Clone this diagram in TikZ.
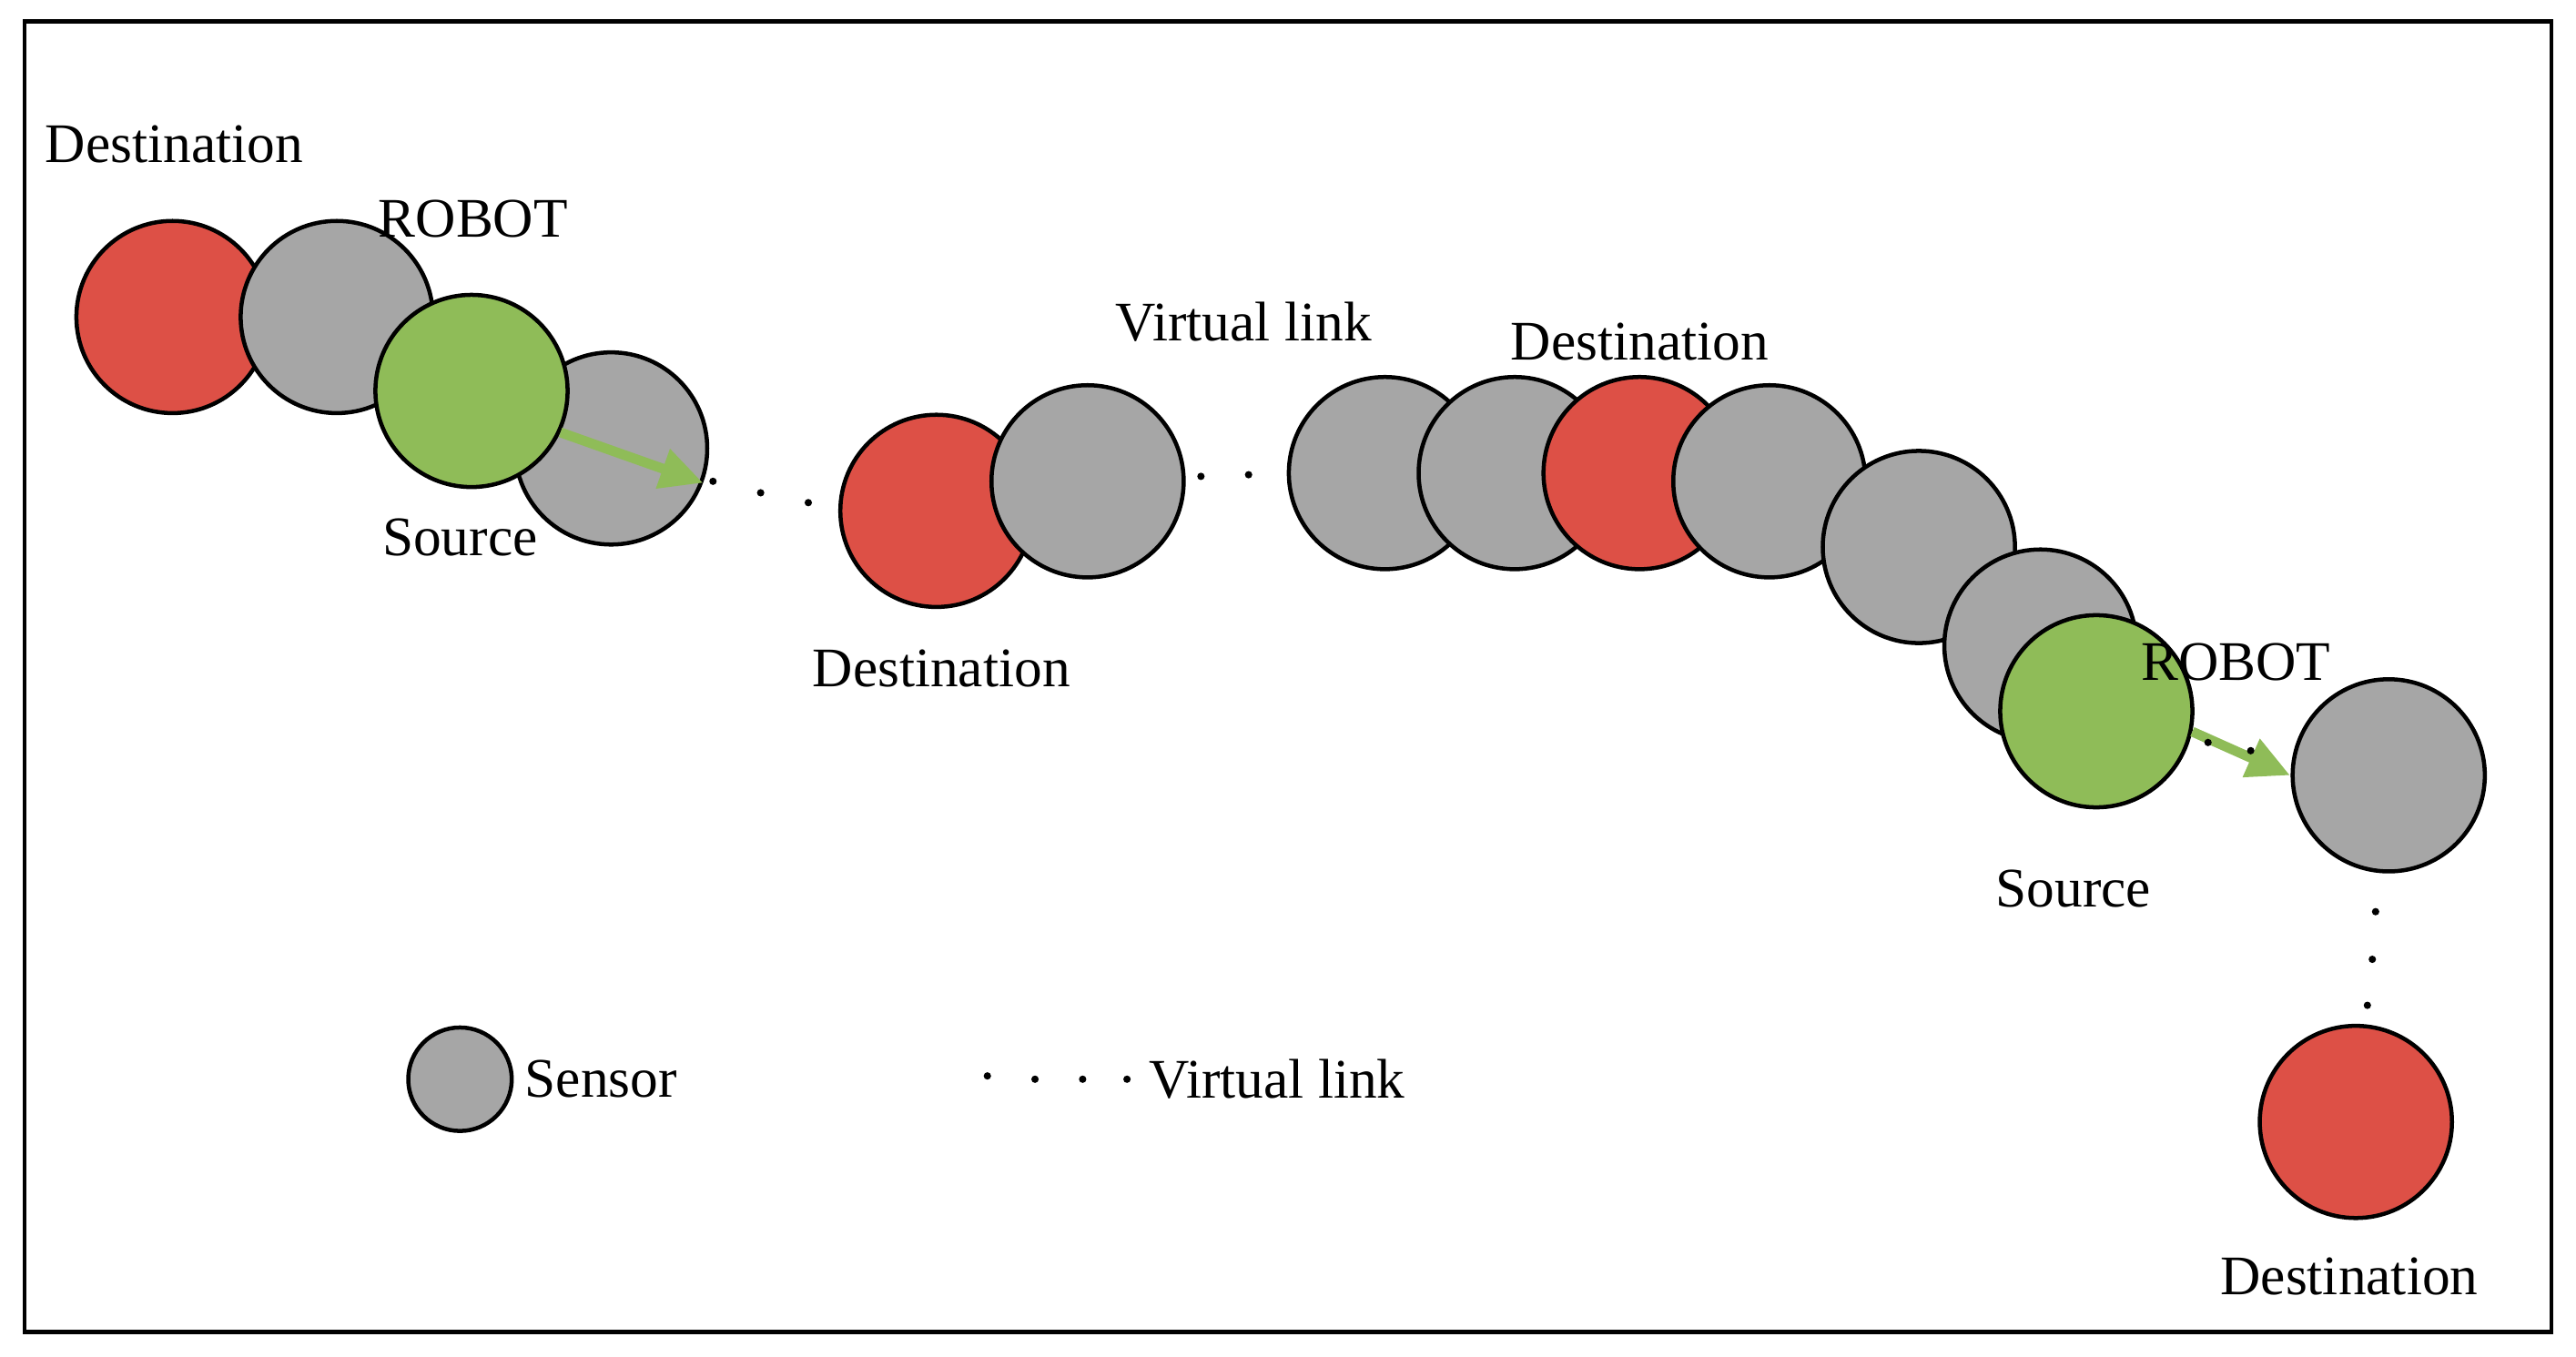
\documentclass[tikz,border=0pt]{standalone}
\usepackage{fontspec}
\setmainfont{Liberation Serif}
\usetikzlibrary{arrows.meta}
\definecolor{cred}{HTML}{DD5046}
\definecolor{cgray}{HTML}{A6A6A6}
\definecolor{cgreen}{HTML}{8FBC58}
\begin{document}
\begin{tikzpicture}[x=1pt,y=-1pt,
  n/.style={circle,draw=black,line width=2.5pt,minimum size=117pt,inner sep=0pt},
  r/.style={n,fill=cred}, g/.style={n,fill=cgray}, s/.style={n,fill=cgreen},
  dot/.style={circle,fill=black,inner sep=0pt,minimum size=4.5pt},
  lab/.style={font=\fontsize{34}{40}\selectfont},
  arr/.style={cgreen,line width=6pt,-{Triangle[length=26pt,width=24pt]}}]
\useasboundingbox (0,0) rectangle (1568,826);
\node[draw=black,line width=2.5pt,minimum width=1538pt,minimum height=798pt,inner sep=0pt] (frame) at (784,412) {};
% top-left group
\node[r] (r1) at (105,193) {};
\node[g] (g1) at (205,193) {};
\node[g] (g2) at (372,273) {};
\node[s] (s1) at (287,238) {};
\coordinate (a1) at (428,294);
\draw[arr] (s1.-25) -- (a1);
\node[dot] (d1) at (434,293) {}; \node[dot] (d2) at (463,300) {}; \node[dot] (d3) at (492,306) {};
% middle
\node[r] (r2) at (570,311) {};
\node[g] (g3) at (662,293) {};
\node[dot] (d4) at (731,290) {}; \node[dot] (d5) at (760,289) {};
\node[g] (g4) at (843,288) {};
\node[g] (g5) at (922,288) {};
\node[r] (r3) at (998,288) {};
\node[g] (g6) at (1077,293) {};
\node[g] (g7) at (1168,333) {};
\node[g] (g8) at (1242,393) {};
\node[s] (s2) at (1276,433) {};
\node[g] (g9) at (1454,472) {};
\coordinate (a2) at (1394,472);
\draw[arr] (s2.-12) -- (a2);
\node[dot] (d6) at (1344,452) {}; \node[dot] (d7) at (1370,457) {};
\node[dot] (d8) at (1446,555) {}; \node[dot] (d9) at (1444,584) {}; \node[dot] (d10) at (1441,612) {};
\node[r] (r4) at (1434,683) {};
% labels
\node[lab] (t1) at (106,88) {Destination};
\node[lab] (t2) at (288,133) {ROBOT};
\node[lab] (t3) at (280,327) {Source};
\node[lab] (t4) at (757,196) {Virtual link};
\node[lab] (t5) at (998,208) {Destination};
\node[lab] (t6) at (573,407) {Destination};
\node[lab] (t7) at (1361,403) {ROBOT};
\node[lab] (t8) at (1262,541) {Source};
\node[lab] (t9) at (1430,777) {Destination};
% legend
\node[n,fill=cgray,minimum size=63pt] (lg) at (280,657) {};
\node[lab,anchor=west] (lt1) at (316,657) {Sensor};
\node[dot] (l1) at (601,655) {}; \node[dot] (l2) at (630,657) {}; \node[dot] (l3) at (659,657) {}; \node[dot] (l4) at (686,657) {};
\node[lab,anchor=west] (lt2) at (696,657) {Virtual link};
\end{tikzpicture}
\end{document}
